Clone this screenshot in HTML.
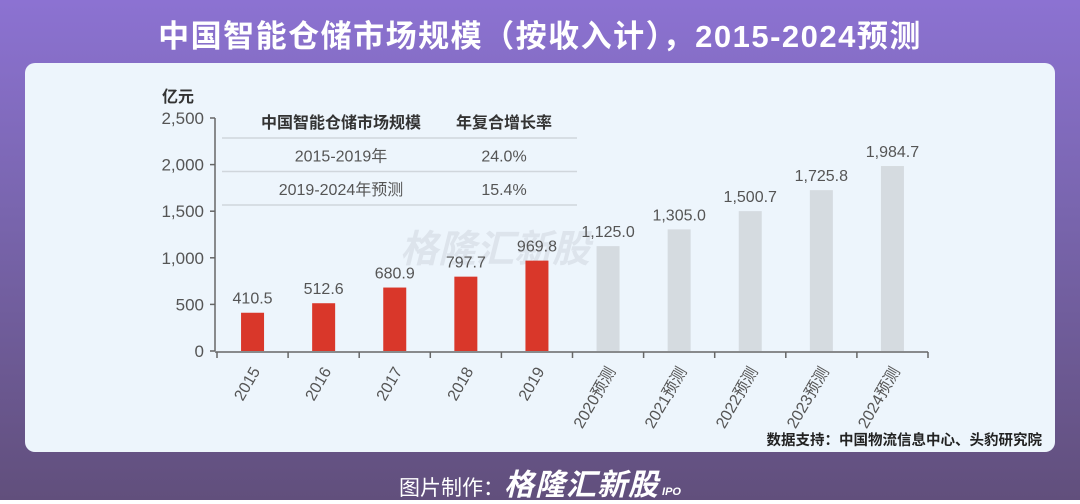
<!DOCTYPE html>
<html><head><meta charset="utf-8">
<style>
body{margin:0;width:1080px;height:500px;overflow:hidden;font-family:"Liberation Sans","Noto Sans CJK SC",sans-serif;}
#bg{position:absolute;left:0;top:0;width:1080px;height:500px;background:linear-gradient(180deg,#8c72d2 0%,#7a66b0 40%,#614f7c 100%);}
#title{position:absolute;left:0;top:17px;width:1080px;text-align:center;color:#fff;font-weight:bold;font-size:31px;letter-spacing:1.5px;line-height:40px;}
#panel{position:absolute;left:25px;top:63px;width:1030px;height:389px;background:#edf5fc;border-radius:10px;}
#foot{position:absolute;left:0;top:460px;width:1080px;text-align:center;color:#fff;font-size:21px;}
</style></head><body>
<div id="bg"></div>
<div id="title">中国智能仓储市场规模（按收入计），2015-2024预测</div>
<div id="panel"></div>
<svg id="chart" width="1080" height="500" style="position:absolute;left:0;top:0"></svg>
<div id="foot">图片制作：<b style="font-style:italic;font-size:30px;letter-spacing:1px">格隆汇新股</b><span style="font-size:11px;font-style:italic;font-weight:bold"> IPO</span></div>
<script>
const categories=["2015","2016","2017","2018","2019","2020预测","2021预测","2022预测","2023预测","2024预测"];
const values=[410.5,512.6,680.9,797.7,969.8,1125.0,1305.0,1500.7,1725.8,1984.7];
const labels=["410.5","512.6","680.9","797.7","969.8","1,125.0","1,305.0","1,500.7","1,725.8","1,984.7"];
const yTicks=[0,500,1000,1500,2000,2500];
const yTickLabels=["0","500","1,000","1,500","2,000","2,500"];
const NS="http://www.w3.org/2000/svg";
const svg=document.getElementById('chart');
const x0=217,x1=928,y0=351,y1=118,ymax=2500;
const step=(x1-x0)/categories.length;
const yS=v=>y0-(v/ymax)*(y0-y1);
const xC=i=>x0+step*(i+0.5);
function mk(t,a,txt){const e=document.createElementNS(NS,t);for(const k in a)e.setAttribute(k,a[k]);if(txt!=null)e.textContent=txt;svg.appendChild(e);return e;}
let w=mk('text',{x:400,y:262,'font-size':38,'font-weight':'bold','font-style':'italic',fill:'#dde4ec'},'格隆汇新股');


const tb=[["中国智能仓储市场规模","年复合增长率"],["2015-2019年","24.0%"],["2019-2024年预测","15.4%"]];
tb.forEach((r,i)=>{
  const y=128+i*33.5;
  let a=mk('text',{x:341,y:y,'text-anchor':'middle','font-size':16,fill:i?'#555':'#333','font-weight':i?'normal':'bold'},r[0]);
  
  
  let b=mk('text',{x:504,y:y,'text-anchor':'middle','font-size':16,fill:i?'#555':'#333','font-weight':i?'normal':'bold'},r[1]);
  
  
  let l=mk('line',{x1:222,x2:577,y1:138+i*33.5,y2:138+i*33.5,stroke:'#d0d6dc','stroke-width':1.5});
  
  
});
let u=mk('text',{x:162,y:102,'font-size':16,'font-weight':'bold',fill:'#333'},'亿元');


let ya=mk('line',{x1:x0-2,x2:x0-2,y1:y1,y2:y0,stroke:'#666','stroke-width':1.5});


yTicks.forEach((v,i)=>{
  mk('line',{x1:x0-7,x2:x0-2,y1:yS(v),y2:yS(v),stroke:'#666','stroke-width':1.5});
  let t=mk('text',{x:x0-13,y:yS(v)+6,'text-anchor':'end','font-size':17,fill:'#555'},yTickLabels[i]);
  
  
});
values.forEach((v,i)=>{
  const bw=23;
  let r=mk('rect',{x:xC(i)-bw/2,y:yS(v),width:bw,height:y0-yS(v),fill:i<5?'#d9372a':'#d5dbe0'});
  
  
  let t=mk('text',{x:xC(i),y:yS(v)-9,'text-anchor':'middle','font-size':16,fill:'#555'},labels[i]);
  
  
  let xl=mk('text',{x:xC(i)+8,y:y0+20,'text-anchor':'end','font-size':16,fill:'#555',transform:`rotate(-60 ${xC(i)+8} ${y0+20})`},categories[i]);
  
  
});
let xa=mk('line',{x1:x0-2,x2:x1,y1:y0+1,y2:y0+1,stroke:'#666','stroke-width':1.5});


for(let i=0;i<=categories.length;i++)mk('line',{x1:x0+step*i,x2:x0+step*i,y1:y0+1,y2:y0+7,stroke:'#666','stroke-width':1.5});
let s=mk('text',{x:1042,y:445,'text-anchor':'end','font-size':14.5,'font-weight':'bold',fill:'#222'},'数据支持：中国物流信息中心、头豹研究院');


</script>
</body></html>
